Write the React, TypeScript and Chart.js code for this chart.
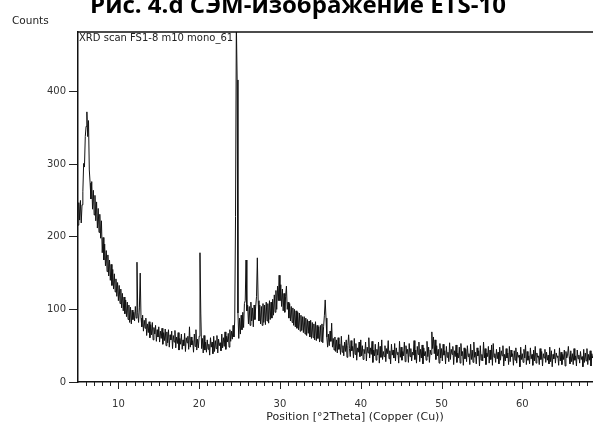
import { useEffect, useRef } from "react";
import { Chart, registerables } from "chart.js";

Chart.register(...registerables);

const TITLE = "Рис. 4.d СЭМ-изображение ETS-10";
const SCAN_LABEL = "XRD scan FS1-8 m10 mono_61";
const Y_TITLE = "Counts";
const X_TITLE = "Position [°2Theta] (Copper (Cu))";

const STEP = 0.1;
const X_MIN = 5;
const X_MAX = 68.75;
const Y_MAX = 482;
const Y_TICKS = [0, 100, 200, 300, 400];
const X_LABEL_TICKS = [10, 20, 30, 40, 50, 60];

// counts from 5.0° to 14.9° (0.1° step)
const counts05 = [
  216, 247, 223, 250, 219, 244, 262, 301, 296, 338,
  352, 372, 338, 360, 292, 274, 252, 276, 238, 264,
  230, 257, 222, 248, 212, 239, 206, 231, 198, 222,
  178, 199, 168, 190, 160, 181, 152, 175, 146, 168,
  140, 162, 133, 155, 128, 149, 124, 142, 118, 137,
  112, 133, 108, 128, 102, 122, 98, 117, 94, 113,
  90, 110, 86, 106, 82, 103, 80, 99, 86, 96,
  84, 104, 88, 165, 96, 82, 102, 150, 88, 76,
  92, 70, 85, 74, 88, 64, 80, 68, 83, 61,
  79, 65, 82, 58, 75, 66, 78, 56, 72, 62,
];
// counts from 15.0° to 24.9°
const counts15 = [
  76, 55, 70, 60, 74, 52, 68, 57, 73, 50,
  69, 54, 72, 48, 65, 58, 70, 46, 64, 55,
  71, 47, 62, 53, 68, 44, 60, 52, 66, 45,
  58, 50, 67, 42, 61, 54, 63, 45, 76, 48,
  62, 51, 57, 41, 66, 49, 72, 44, 59, 47,
  63, 178, 95, 46, 60, 40, 64, 44, 55, 41,
  58, 45, 52, 37, 61, 48, 55, 39, 63, 42,
  57, 46, 64, 40, 59, 50, 54, 43, 66, 47,
  61, 49, 69, 45, 63, 55, 67, 48, 72, 56,
  70, 59, 78, 62, 84, 228, 495, 416, 95, 60,
];
// counts from 25.0° to 35.9°
const counts25 = [
  88, 66, 92, 72, 96, 75, 108, 112, 168, 98,
  106, 80, 104, 78, 110, 84, 102, 76, 106, 86,
  104, 118, 171, 112, 84, 106, 80, 104, 78, 108,
  82, 106, 79, 110, 84, 108, 81, 112, 86, 110,
  88, 114, 92, 120, 96, 126, 100, 132, 112, 147,
  112, 134, 104, 128, 98, 122, 96, 118, 132, 100,
  110, 88, 108, 84, 104, 82, 102, 78, 100, 76,
  98, 74, 96, 72, 95, 70, 92, 71, 90, 68,
  90, 66, 88, 64, 86, 67, 84, 62, 85, 60,
  82, 61, 80, 58, 83, 57, 78, 60, 76, 55,
  78, 56, 80, 54, 76, 92, 113, 88, 62, 48,
];
// counts from 36.0° to 49.9°
const counts36 = [
  66, 50, 70, 56, 81, 48, 60, 44, 62, 42,
  58, 40, 61, 45, 52, 38, 63, 41, 50, 36,
  55, 42, 58, 34, 50, 65, 46, 35, 57, 43,
  49, 33, 60, 38, 53, 30, 47, 41, 55, 35,
  58, 36, 50, 31, 45, 39, 55, 29, 48, 40,
  61, 33, 47, 38, 56, 27, 44, 36, 52, 30,
  45, 37, 55, 26, 49, 34, 58, 31, 42, 35,
  50, 28, 46, 39, 57, 32, 43, 25, 52, 37,
  44, 33, 53, 29, 47, 38, 41, 26, 56, 34,
  48, 30, 42, 36, 55, 28, 50, 39, 45, 27,
  53, 35, 46, 29, 41, 37, 57, 31, 44, 26,
  49, 38, 55, 28, 45, 33, 51, 25, 47, 36,
  42, 30, 56, 35, 48, 27, 44, 38, 69, 46,
  62, 39, 58, 31, 50, 36, 45, 26, 53, 33,
];
// counts from 50.0° to 68.9°
const counts50 = [
  46, 29, 52, 37, 43, 25, 49, 34, 41, 28,
  54, 31, 45, 38, 49, 24, 43, 35, 51, 27,
  40, 33, 48, 26, 53, 36, 42, 23, 47, 32,
  45, 28, 50, 35, 39, 24, 52, 31, 44, 27,
  55, 34, 41, 25, 47, 36, 43, 22, 50, 30,
  38, 29, 55, 33, 46, 24, 40, 35, 49, 26,
  44, 31, 51, 23, 53, 34, 39, 27, 45, 32,
  41, 25, 48, 30, 43, 36, 50, 22, 38, 29,
  46, 33, 40, 24, 49, 28, 44, 35, 39, 23,
  43, 30, 47, 26, 41, 34, 37, 21, 48, 31,
  39, 27, 45, 33, 51, 24, 42, 30, 36, 25,
  47, 32, 38, 23, 44, 29, 49, 26, 40, 34,
  36, 24, 46, 31, 42, 22, 39, 33, 45, 27,
  41, 30, 37, 25, 48, 28, 43, 21, 38, 32,
  45, 26, 40, 34, 36, 23, 47, 29, 41, 24,
  38, 31, 44, 22, 42, 33, 37, 49, 35, 25,
  43, 28, 39, 24, 46, 30, 36, 22, 44, 32,
  37, 26, 42, 31, 35, 21, 45, 27, 40, 29,
  46, 24, 38, 30, 43, 22, 39, 33, 36, 25,
];

const SEGMENTS: { start: number; values: number[] }[] = [
  { start: 5, values: counts05 },
  { start: 15, values: counts15 },
  { start: 25, values: counts25 },
  { start: 36, values: counts36 },
  { start: 50, values: counts50 },
];

const FONT = "'DejaVu Sans', sans-serif";

const overlay = {
  id: "overlay",
  afterDraw(chart: any) {
    const { ctx, chartArea } = chart;
    const xs = chart.scales.x;
    ctx.save();
    ctx.strokeStyle = "#111";
    ctx.lineWidth = 1.5;
    ctx.beginPath();
    ctx.moveTo(chartArea.left, chartArea.top);
    ctx.lineTo(chartArea.right + 2, chartArea.top);
    ctx.stroke();
    ctx.lineWidth = 1;
    ctx.strokeStyle = "#222";
    for (let v = 6; v <= 68; v++) {
      const px = Math.round(xs.getPixelForValue(v)) + 0.5;
      const len = v % 10 === 0 ? 7 : 4;
      ctx.beginPath();
      ctx.moveTo(px, chartArea.bottom);
      ctx.lineTo(px, chartArea.bottom + len);
      ctx.stroke();
    }
    ctx.fillStyle = "#000";
    ctx.font = `bold 24px 'Open Sans', sans-serif`;
    ctx.textAlign = "center";
    ctx.textBaseline = "alphabetic";
    ctx.fillText(TITLE, 298, 13);
    ctx.fillStyle = "#222";
    ctx.font = `10.5px ${FONT}`;
    ctx.textAlign = "left";
    ctx.textBaseline = "middle";
    ctx.fillText(Y_TITLE, 12, 21);
    ctx.font = `10px ${FONT}`;
    ctx.fillText(SCAN_LABEL, chartArea.left + 1, 38);
    ctx.font = `11px ${FONT}`;
    ctx.textAlign = "center";
    ctx.fillText(X_TITLE, 355, 417);
    ctx.restore();
  },
};

export default function App() {
  const ref = useRef<HTMLCanvasElement | null>(null);
  useEffect(() => {
    if (!ref.current) return;
    const points: { x: number; y: number }[] = [];
    SEGMENTS.forEach((seg) => {
      seg.values.forEach((v, i) => {
        points.push({ x: +(seg.start + i * STEP).toFixed(1), y: v });
      });
    });
    const chart = new Chart(ref.current, {
      type: "line",
      data: {
        datasets: [
          {
            data: points,
            borderColor: "#111",
            borderWidth: 1,
            pointRadius: 0,
            tension: 0,
          },
        ],
      },
      options: {
        responsive: false,
        animation: false,
        parsing: false,
        layout: { padding: { top: 32, left: 0, right: 0, bottom: 0 } },
        plugins: { legend: { display: false }, tooltip: { enabled: false } },
        scales: {
          x: {
            type: "linear",
            min: X_MIN,
            max: X_MAX,
            afterFit: (s: any) => {
              s.height = 43;
            },
            afterBuildTicks: (s: any) => {
              s.ticks = X_LABEL_TICKS.map((v) => ({ value: v }));
            },
            grid: { display: false },
            border: { display: true, color: "#111", width: 1.5 },
            ticks: {
              autoSkip: false,
              maxRotation: 0,
              padding: 8,
              color: "#333",
              font: { family: FONT, size: 10 },
            },
          },
          y: {
            min: 0,
            max: Y_MAX,
            afterFit: (s: any) => {
              s.width = 78;
            },
            afterBuildTicks: (s: any) => {
              s.ticks = Y_TICKS.map((v) => ({ value: v }));
            },
            grid: { display: true, drawOnChartArea: false, tickLength: 9, color: "#222" },
            border: { display: true, color: "#111", width: 1.5 },
            ticks: {
              padding: 3,
              color: "#333",
              font: { family: FONT, size: 10 },
            },
          },
        },
      },
      plugins: [overlay],
    });
    return () => chart.destroy();
  }, []);
  return (
    <div style={{ position: "fixed", left: 0, top: 0, width: 593, height: 425, background: "#fff" }}>
      <canvas ref={ref} width={593} height={425} style={{ display: "block" }} />
    </div>
  );
}
